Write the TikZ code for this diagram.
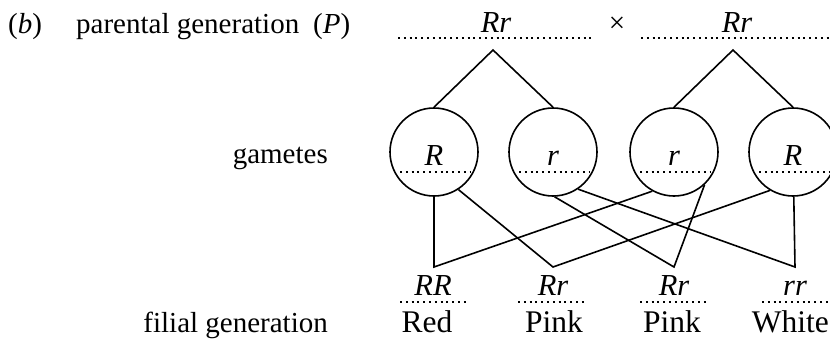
\documentclass[tikz,border=0pt]{standalone}
\usepackage{fontspec}
\setmainfont{Liberation Serif}
\begin{document}
\begin{tikzpicture}[x=1pt,y=-1pt,
  txt/.style={inner sep=0pt,font=\fontsize{29}{34}\selectfont},
  al/.style={inner sep=0pt,font=\fontsize{30.5}{36}\selectfont\itshape},
  ph/.style={inner sep=0pt,font=\fontsize{31.5}{37}\selectfont},
  gam/.style={circle,draw,line width=1.6pt,minimum size=88pt,inner sep=0pt},
  dotln/.style={line width=1.9pt,dash pattern=on 1.9pt off 3.9pt},
  ln/.style={line width=1.6pt}]
\useasboundingbox (0,0) rectangle (830,338);
\clip (0,0) rectangle (830,338);
% labels
\node[txt,anchor=base west] (lb) at (8,33) {(\textit{b})};
\node[txt,anchor=base west] (lp) at (76,33) {parental generation\hspace{14pt}(\textit{P})};
\node[txt,anchor=base east] (lg) at (328,163) {gametes};
\node[txt,anchor=base east] (lf) at (328,332) {filial generation};
% parents
\node[al,anchor=base] (p1) at (496,32) {Rr};
\node[txt,anchor=base] (x) at (617,32) {×};
\node[al,anchor=base] (p2) at (737,32) {Rr};
\draw[dotln] (398,38) -- (592,38);
\draw[dotln] (641,38) -- (832,38);
\coordinate (a1) at (493,50);
\coordinate (a2) at (733,50);
% gametes
\node[gam] (g1) at (434,152) {};
\node[gam] (g2) at (553,152) {};
\node[gam] (g3) at (674,152) {};
\node[gam] (g4) at (793,152) {};
\node[al,anchor=base] (t1) at (434,165) {R};
\node[al,anchor=base] (t2) at (553,165) {r};
\node[al,anchor=base] (t3) at (674,165) {r};
\node[al,anchor=base] (t4) at (793,165) {R};
\foreach \c in {434,553,674,793}{\draw[dotln] (\c-34,172) -- (\c+36,172);}
\draw[ln] (g1.north) -- (a1) -- (g2.north);
\draw[ln] (g3.north) -- (a2) -- (g4.north);
% offspring vertices
\coordinate (f1) at (434,267);
\coordinate (f2) at (553,267);
\coordinate (f3) at (674,267);
\coordinate (f4) at (795,267);
\draw[ln] (g1.south) -- (f1) -- (g3.-119);
\draw[ln] (g1.-57) -- (f2) -- (g4.-121);
\draw[ln] (g2.-88) -- (f3) -- (g3.-47);
\draw[ln] (g2.-56) -- (f4) -- (g4.-89);
% offspring
\node[al,anchor=base] (o1) at (433,295) {RR};
\node[al,anchor=base] (o2) at (553,295) {Rr};
\node[al,anchor=base] (o3) at (674,295) {Rr};
\node[al,anchor=base] (o4) at (795,295) {rr};
\draw[dotln] (400,302) -- (468,302);
\draw[dotln] (518,302) -- (587,302);
\draw[dotln] (640,302) -- (708,302);
\draw[dotln] (762,302) -- (832,302);
\node[ph,anchor=base] (c1) at (427,332) {Red};
\node[ph,anchor=base] (c2) at (554,332) {Pink};
\node[ph,anchor=base] (c3) at (672,332) {Pink};
\node[ph,anchor=base east] (c4) at (829,332) {White};
\end{tikzpicture}
\end{document}
